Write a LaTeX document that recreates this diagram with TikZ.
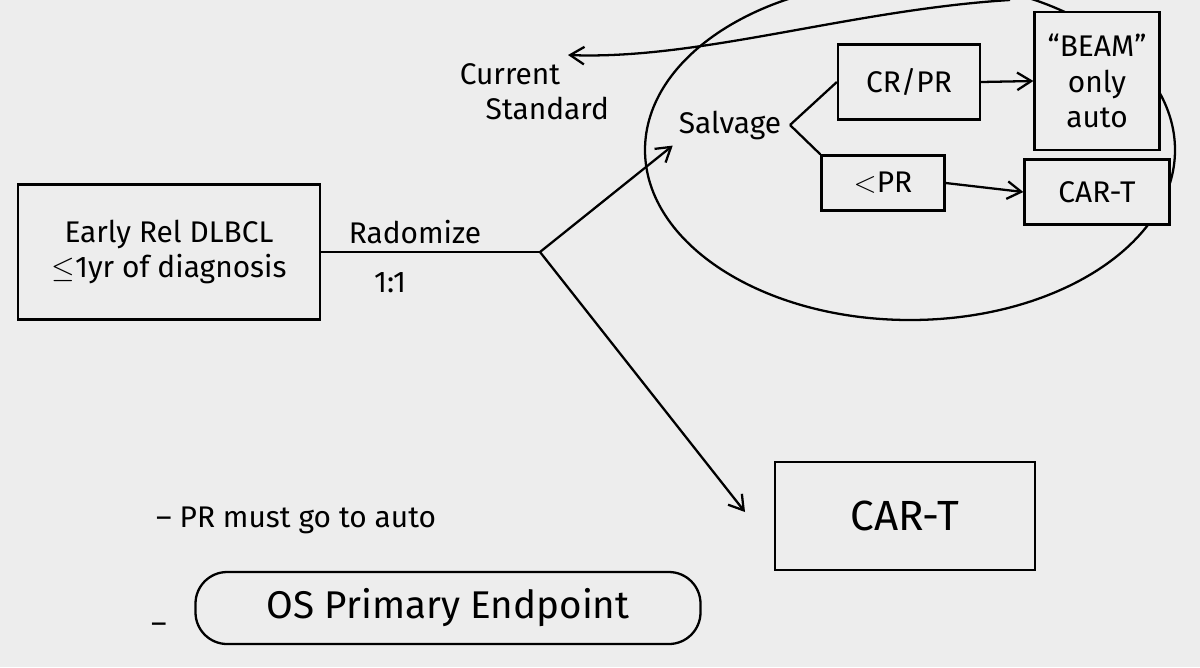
\documentclass[tikz,border=0pt]{standalone}
\usepackage{fontspec}
\setmainfont{Fira Sans}
\usetikzlibrary{arrows.meta,shapes.geometric}
\definecolor{paper}{gray}{0.93}
\begin{document}
\begin{tikzpicture}[x=0.02cm,y=-0.02cm,
  box/.style={draw,fill=paper,line width=1.3pt,inner sep=0pt},
  ln/.style={line width=1.3pt},
  arr/.style={ln,-{Straight Barb[length=8pt,width=10pt]}},
  txt/.style={font=\fontsize{17}{20}\selectfont,align=center}]
\fill[paper] (0,0) rectangle (1200,667);
\useasboundingbox (0,0) rectangle (1200,667);
% ellipse
\begin{scope}
\clip (0,0) rectangle (1200,667);
\node[draw,ln,ellipse,minimum width=530*0.02cm,minimum height=340*0.02cm] (ell) at (910,150) {};
\end{scope}
% main box
\node[box,minimum width=302*0.02cm,minimum height=135*0.02cm,txt] (start) at (169,252) {Early Rel DLBCL\\$\leq$1yr of diagnosis};
\coordinate (j) at (540,252);
\draw[ln] (start.east) -- (j);
\node[txt] (rad) at (415,232) {Radomize};
\node[txt] (ratio) at (390,283) {1:1};
\node[txt] (cur) at (510,92) {Current\\\hspace*{2.5em}Standard};
\coordinate (ctop) at (1010,0);
\coordinate (cend) at (568,55);
\draw[arr] (ctop) .. controls (850,10) and (700,60) .. (cend);
% salvage branch
\node[txt] (salv) at (730,125) {Salvage};
\node[box,minimum width=142*0.02cm,minimum height=75*0.02cm,txt] (crpr) at (909,82) {CR/PR};
\node[box,minimum width=123*0.02cm,minimum height=55*0.02cm,txt] (lpr) at (883,183) {$<$PR};
\node[box,minimum width=125*0.02cm,minimum height=138*0.02cm,txt] (beam) at (1097,81) {``BEAM''\\only\\auto};
\node[box,minimum width=145*0.02cm,minimum height=65*0.02cm,txt] (cart1) at (1097,192) {CAR-T};
\coordinate (sv) at (790,125);
\draw[ln] (sv) -- (crpr.west) (sv) -- (lpr.north west);
\draw[arr] (crpr.east) -- (beam.west);
\draw[arr] (lpr.east) -- (cart1.west);
\draw[arr] (j) -- (salv.south west);
% bottom CAR-T
\node[box,minimum width=260*0.02cm,minimum height=108*0.02cm,font=\fontsize{24}{28}\selectfont] (cart2) at (905,516) {CAR-T};
\draw[arr] (j) -- (745,512);
% notes
\node[txt,anchor=west] (n1) at (150,520) {– PR must go to auto};
\node[txt,anchor=west] (dash) at (145,628) {–};
\node[draw,ln,rounded corners=18pt,minimum width=505*0.02cm,minimum height=72*0.02cm,font=\fontsize{22}{26}\selectfont] (n2) at (448,608) {OS Primary Endpoint};
\end{tikzpicture}
\end{document}
